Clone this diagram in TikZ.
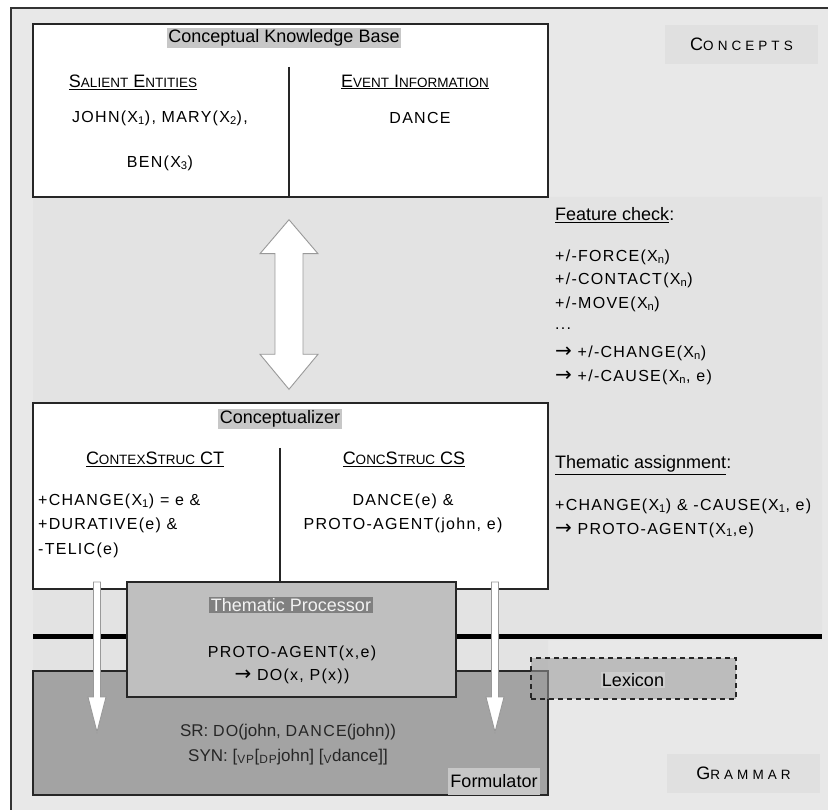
\documentclass[tikz,border=0pt]{standalone}
\usepackage{fontspec}
\setmainfont{Liberation Sans}
\newfontfamily\capsfont[LetterSpace=8]{Liberation Sans}
\newfontfamily\widefont[LetterSpace=30]{Liberation Sans}
\newfontfamily\symfont{DejaVu Sans}
\usetikzlibrary{calc}

\newcommand\bigsz{\fontsize{18}{21}\selectfont}
\newcommand\capsz{\capsfont\fontsize{16}{19}\selectfont}
% hand made small caps: first letter large, rest small
\newcommand\fsc[2]{{\fontsize{18}{21}\selectfont #1}{\fontsize{13.5}{16}\selectfont #2}}
\newcommand\wsc[2]{{\widefont\fontsize{18}{21}\selectfont #1}{\widefont\fontsize{13.5}{16}\selectfont #2}}
\newcommand\cp[1]{{\capsz #1}}
\newcommand\cpsub[1]{\textsubscript{\capsfont #1}}
\newcommand\plmi{+/-}
\newcommand\impl{{\symfont\fontsize{20}{20}\selectfont →}}
% block arrows
\newcommand\fatdouble[2]{%
  \draw[hollow] (#1) -- ++(29,34) -- ++(-15,0) -- ($(#2)+(14,-35)$) -- ++(15,0)
    -- (#2) -- ++(-29,-35) -- ++(15,0) -- ($(#1)+(-14,34)$) -- ++(-15,0) -- cycle;}
\newcommand\fatdown[2]{%
  \draw[hollow] ($(#1)+(-3.5,0)$) -- ($(#1)+(3.5,0)$) -- ($(#2)+(3.5,-35)$) -- ++(5.5,0)
    -- (#2) -- ++(-9,-35) -- ++(5.5,0) -- cycle;}

\begin{document}
\begin{tikzpicture}[
    x=1pt, y=-1pt,
    panel/.style={draw=black!85, line width=1.4pt, fill=white, inner sep=0pt},
    boxtitle/.style={fill=black!22, inner sep=1.5pt, font=\bigsz},
    heading/.style={font=\bigsz, inner sep=0pt},
    entry/.style={font=\capsz, inner sep=0pt},
    note/.style={anchor=west, inner sep=0pt, font=\capsz},
    tag/.style={fill=black!12, minimum width=153pt, minimum height=39pt, inner sep=0pt},
    hollow/.style={fill=white, draw=black!40, line width=0.9pt},
    divider/.style={line width=1.2pt, black!85}
  ]
  \useasboundingbox (0,0) rectangle (828,810);
  \clip (0,0) rectangle (828,810);
  \fill[white] (0,0) rectangle (828,810);
  \draw[fill=black!9, draw=black!80, line width=1.5pt] (11,8) rectangle (850,830);
  % middle band and the border line
  \fill[black!11] (33,197) -- (822,197) -- (822,640) -- (548,640) -- (548,671) -- (33,671) -- cycle;
  \draw[line width=5pt] (33,636) -- (822,636);

  % conceptual knowledge base
  \node[panel, minimum width=515, minimum height=173] (ckb) at (290.5,110.5) {};
  \draw[divider] (289,67) -- (289,197);
  \node[boxtitle] (ckbtitle) at (284,38) {Conceptual Knowledge Base};
  \node[heading] (salient) at (133,82) {\underline{\fsc{S}{ALIENT} \fsc{E}{NTITIES}}};
  \node[entry] (entities) at (160,118) {JOHN(X\textsubscript{1}), MARY(X\textsubscript{2}),};
  \node[entry] (ben) at (160,163) {BEN(X\textsubscript{3})};
  \node[heading] (eventinfo) at (415,82) {\underline{\fsc{E}{VENT} \fsc{I}{NFORMATION}}};
  \node[entry] (dance) at (420,118) {DANCE};

  \node[tag] (concepts) at (741.5,44.5) {\wsc{C}{ONCEPTS}};

  % feature check
  \node[note, font=\bigsz] (fcheck) at (555,215) {\underline{Feature check}:};
  \foreach \y/\t in {257/{\plmi FORCE(X\textsubscript{n})},
                     280/{\plmi CONTACT(X\textsubscript{n})},
                     304/{\plmi MOVE(X\textsubscript{n})},
                     329/{...},
                     353/{\impl{} \plmi CHANGE(X\textsubscript{n})},
                     377/{\impl{} \plmi CAUSE(X\textsubscript{n}, e)}}
    \node[note] (fc\y) at (555,\y) {\t};

  % conceptualizer
  \node[panel, minimum width=515, minimum height=186] (concept) at (290.5,496) {};
  \node[boxtitle] (concepttitle) at (280,419) {Conceptualizer};
  \draw[divider] (280,448) -- (280,589);
  \node[heading] (ctstruc) at (155,459) {\underline{\fsc{C}{ONTEX}\fsc{S}{TRUC} CT}};
  \node[heading] (csstruc) at (404,459) {\underline{\fsc{C}{ONC}\fsc{S}{TRUC} CS}};
  \foreach \y/\t in {501/{+CHANGE(X\textsubscript{1}) = e \&},
                     525/{+DURATIVE(e) \&},
                     550/{-TELIC(e)}}
    \node[note] (ct\y) at (38,\y) {\t};
  \node[entry] (cs501) at (403,501) {DANCE(e) \&};
  \node[entry] (cs525) at (403,525) {PROTO-AGENT(john, e)};

  \coordinate (linktop) at ($(ckb.south)+(-1.5,22)$);
  \coordinate (linkbot) at ($(concept.north)+(-1.5,-13)$);
  \fatdouble{linktop}{linkbot}

  % thematic assignment
  \node[note, font=\bigsz] (tassign) at (555,465) {\underline{Thematic assignment}:};
  \node[note] (ta506) at (555,506) {+CHANGE(X\textsubscript{1}) \& -CAUSE(X\textsubscript{1}, e)};
  \node[note] (ta530) at (555,530) {\impl{} PROTO-AGENT(X\textsubscript{1},e)};

  % formulator
  \node[panel, fill=black!36, minimum width=515, minimum height=124] (form) at (290.5,733) {};
  \node[fill=black!22, inner sep=0pt, minimum width=92, minimum height=27, font=\bigsz] (formlabel) at (494,781) {Formulator};
  \node[font=\fontsize{17}{20}\selectfont, black!85, inner sep=0pt] (sr) at (288,732) {SR: \cp{DO}(john, \cp{DANCE}(john))};
  \node[font=\fontsize{17}{20}\selectfont, black!85, inner sep=0pt] (syn) at (288,757)
    {SYN: [\cpsub{VP}[\cpsub{DP}john] [\cpsub{V}dance]]};

  \coordinate (ctout) at (97,582);
  \coordinate (ctin) at (97,732);
  \coordinate (csout) at (495,582);
  \coordinate (csin) at (495,732);
  \fatdown{ctout}{ctin}
  \fatdown{csout}{csin}

  % thematic processor
  \node[panel, fill=black!25, minimum width=329, minimum height=115] (thproc) at (291.5,639.5) {};
  \node[boxtitle, fill=black!50, text=black!5] (thtitle) at (291,605) {Thematic Processor};
  \node[entry] (th653) at (292,653) {PROTO-AGENT(x,e)};
  \node[entry] (th676) at (292,676) {\impl{} DO(x, P(x))};

  % lexicon
  \node[draw=black!85, line width=1.3pt, dash pattern=on 5pt off 4pt, fill=black!40, fill opacity=0.55,
        minimum width=205, minimum height=41, inner sep=0pt] (lexicon) at (633.5,678.5) {};
  \node[fill=black!20, inner sep=1pt, font=\bigsz] (lextext) at (633,680) {Lexicon};

  \node[tag] (grammar) at (743.5,773.5) {\wsc{G}{RAMMAR}};
\end{tikzpicture}
\end{document}
